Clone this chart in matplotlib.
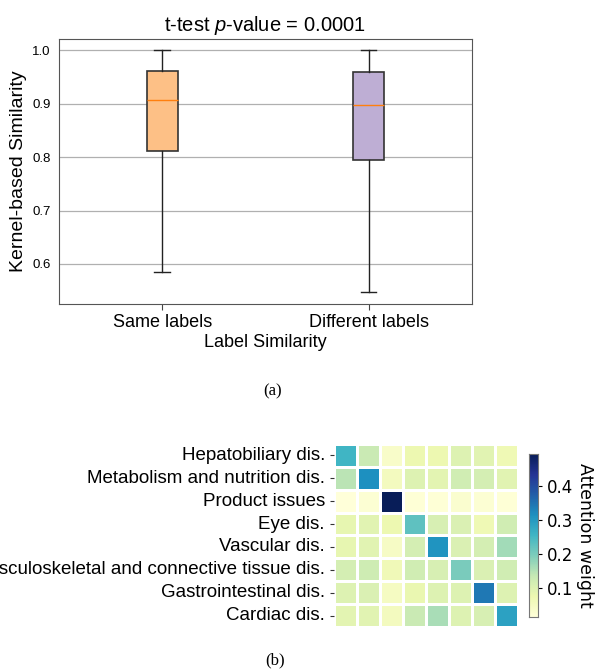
import numpy as np
import matplotlib
matplotlib.use('Agg')
import matplotlib.pyplot as plt
import seaborn as sns

plt.rcParams['font.family'] = ['Liberation Sans', 'DejaVu Sans']
plt.rcParams['mathtext.fontset'] = 'custom'
plt.rcParams['mathtext.rm'] = 'Liberation Sans'
plt.rcParams['mathtext.it'] = 'Liberation Sans:italic'

# (a) box plot summary
groups = ['Same labels', 'Different labels']
whislo = [0.585, 0.548]
q1 = [0.811, 0.794]
med = [0.907, 0.898]
q3 = [0.962, 0.959]
whishi = [1.0, 1.0]
box_colors = ['#fdc086', '#beaed4']

# (b) attention weights
categories = ['Hepatobiliary dis.', 'Metabolism and nutrition dis.', 'Product issues',
              'Eye dis.', 'Vascular dis.', 'Musculoskeletal and connective tissue dis.',
              'Gastrointestinal dis.', 'Cardiac dis.']
weights = [
    [0.255, 0.130, 0.040, 0.075, 0.075, 0.100, 0.095, 0.070],
    [0.145, 0.315, 0.055, 0.100, 0.090, 0.120, 0.115, 0.095],
    [0.015, 0.025, 0.495, 0.020, 0.020, 0.030, 0.025, 0.020],
    [0.085, 0.095, 0.075, 0.225, 0.110, 0.105, 0.070, 0.120],
    [0.085, 0.095, 0.045, 0.115, 0.310, 0.105, 0.115, 0.165],
    [0.115, 0.125, 0.065, 0.120, 0.110, 0.200, 0.105, 0.120],
    [0.100, 0.105, 0.050, 0.080, 0.100, 0.100, 0.345, 0.100],
    [0.090, 0.095, 0.055, 0.130, 0.160, 0.100, 0.110, 0.290],
]
cbar_ticks = [0.1, 0.2, 0.3, 0.4]

fig = plt.figure(figsize=(5.97, 6.72), dpi=100)

# ---- box plot ----
ax = fig.add_axes([0.0988, 0.5476, 0.6913, 0.3944])
stats = []
for i in range(len(groups)):
    stats.append(dict(whislo=whislo[i], q1=q1[i], med=med[i], q3=q3[i],
                      whishi=whishi[i], fliers=[], label=groups[i]))
bp = ax.bxp(stats, positions=[1, 2], widths=0.15, patch_artist=True,
            showfliers=False,
            boxprops=dict(edgecolor='#333333', linewidth=1.2),
            whiskerprops=dict(color='#222222', linewidth=1.0),
            capprops=dict(color='#222222', linewidth=1.0),
            medianprops=dict(color='#ff7f0e', linewidth=1.0))
for patch, c in zip(bp['boxes'], box_colors):
    patch.set_facecolor(c)
ax.set_xlim(0.5, 2.5)
ax.set_ylim(0.525, 1.021)
ax.set_yticks([0.6, 0.7, 0.8, 0.9, 1.0])
ax.yaxis.grid(True, color='#b0b0b0', linewidth=0.9)
ax.set_axisbelow(True)
ax.tick_params(axis='y', length=0, labelsize=9.5, pad=6)
ax.tick_params(axis='x', length=4, labelsize=13, color='#444444')
for s in ax.spines.values():
    s.set_color('#555555')
ax.set_title('t-test $p$-value = 0.0001', fontsize=14.5, pad=6)
ax.set_ylabel('Kernel-based Similarity', fontsize=14)
ax.set_xlabel('Label Similarity', fontsize=13, labelpad=2)

fig.text(0.456, 0.418, '(a)', family='Liberation Serif', fontsize=12, ha='center', va='center')

# ---- heatmap ----
hax = fig.add_axes([0.5595, 0.0670, 0.3082, 0.2723])
cax = fig.add_axes([0.886, 0.0818, 0.0151, 0.2426])
sns.heatmap(np.array(weights), ax=hax, cbar_ax=cax, cmap='YlGnBu',
            linewidths=2, linecolor='white', xticklabels=False,
            yticklabels=categories, cbar_kws={'ticks': cbar_ticks})
hax.tick_params(axis='y', length=3, labelsize=13.5, rotation=0, color='#333333')
for lab in hax.get_yticklabels():
    lab.set_rotation(0)
cax.set_yticks(cbar_ticks)
cax.set_yticklabels(['0.1', '0.2', '0.3', '0.4'], family='DejaVu Sans', fontsize=12)
cax.tick_params(length=3)
cax.set_ylabel('Attention weight', rotation=270, fontsize=12.5, labelpad=15, family='DejaVu Sans')
for s in cax.spines.values():
    s.set_visible(True)
    s.set_color('#777777')

fig.text(0.461, 0.017, '(b)', family='Liberation Serif', fontsize=12, ha='center', va='center')

fig.savefig('out.png', dpi=100)
